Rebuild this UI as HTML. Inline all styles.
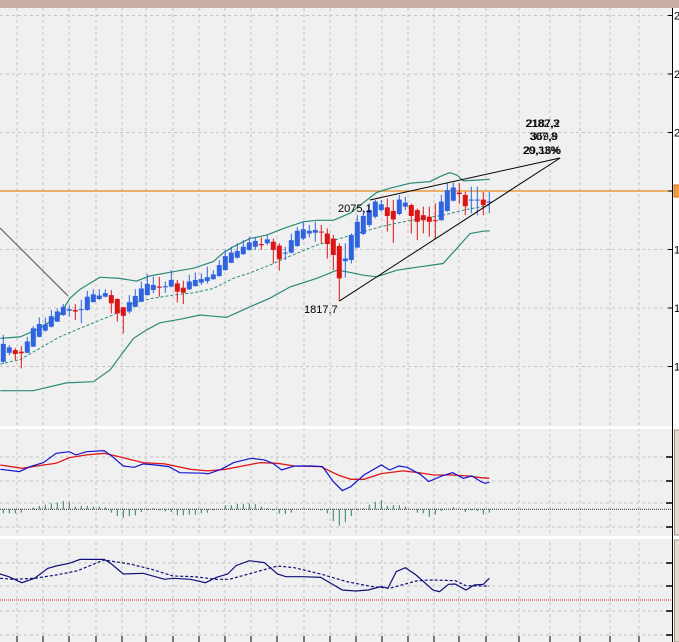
<!DOCTYPE html>
<html><head><meta charset="utf-8"><style>
html,body{margin:0;padding:0;background:#f0f0f0;overflow:hidden}
svg{display:block;font-family:"Liberation Sans",sans-serif}
</style></head><body>
<svg id="chart" width="679" height="642" viewBox="0 0 679 642" xmlns="http://www.w3.org/2000/svg">
<rect x="0" y="0" width="679" height="642" fill="#f0f0f0"/>
<rect x="0" y="0" width="679" height="8" fill="#c8b0a6"/>
<g id="grid"></g>
<g id="main"></g>
<g id="macd"></g>
<g id="stoch"></g>
<g id="axis"></g>
</svg>
<script>
// ---- candle data (prices) ----
const opens  = [1662,1685,1692,1688,1685,1701,1726,1742,1752,1765,1782,1793,1795,1795,1795,1815,1823,1829,1833,1823,1802,1791,1803,1816,1833,1846,1855,1853,1855,1863,1852,1848,1856,1865,1869,1874,1882,1897,1916,1929,1938,1949,1957,1964,1966,1970,1960,1940,1942,1959,1978,1991,1993,1996,1991,1978,1959,1920,1923,1955,1990,2013,2034,2051,2058,2049,2041,2060,2064,2051,2038,2034,2025,2025,2049,2075,2096,2090,2077,2077,2078,2070];
const highs  = [1731,1705,1697,1702,1726,1754,1776,1776,1795,1799,1810,1808,1810,1821,1844,1848,1848,1848,1846,1825,1803,1833,1848,1868,1887,1880,1880,1868,1897,1872,1870,1885,1891,1889,1906,1897,1923,1949,1957,1966,1974,1983,1981,1981,1987,1978,1966,1957,1991,2008,2021,2013,2021,2013,2004,1987,1966,1966,1991,2038,2051,2068,2077,2077,2081,2077,2090,2085,2068,2055,2060,2060,2068,2090,2120,2121,2120,2098,2111,2111,2098,2098];
const lows   = [1658,1679,1667,1645,1684,1700,1725,1739,1750,1764,1780,1778,1769,1761,1793,1814,1821,1827,1786,1765,1735,1786,1802,1815,1832,1838,1829,1839,1853,1814,1810,1846,1855,1859,1863,1872,1880,1896,1915,1927,1936,1947,1949,1949,1961,1914,1896,1923,1940,1957,1974,1981,1970,1966,1927,1897,1818,1878,1914,1953,1987,2008,2030,2047,1996,1967,2038,2051,1991,1974,1991,1983,1978,2024,2047,2073,2067,2038,2043,2038,2038,2043];
const closes = [1708,1699,1682,1684,1714,1748,1759,1758,1779,1791,1803,1797,1791,1797,1829,1835,1832,1838,1812,1786,1780,1815,1831,1850,1862,1859,1852,1856,1872,1842,1839,1868,1872,1874,1879,1886,1910,1933,1942,1946,1957,1968,1972,1961,1976,1949,1925,1942,1974,1998,2002,1998,2000,1995,1964,1936,1876,1927,1987,2021,2036,2051,2073,2066,2036,2027,2078,2070,2036,2021,2025,2021,2024,2073,2102,2109,2092,2061,2078,2078,2064,2073];
// ---- bollinger bands (sampled) ----
const upperIdx = [-0.5,2.8,6.1,9.4,11.1,12.8,16.1,19.4,22.2,24.4,28.3,31.7,35,36.7,38.3,41.1,43.9,46.7,50,52.2,55,57.8,60.6,62.2,64.4,67.8,71.1,72.8,74.4,75.6,76.7,78.9,81.1];
const upperVal = [1722,1726,1748,1782,1825,1848,1879,1876,1869,1882,1893,1902,1919,1942,1957,1978,1987,2004,2021,2025,2025,2043,2077,2096,2107,2120,2124,2137,2147,2141,2126,2128,2130];
const midIdx = [-0.5,2.8,6.1,9.4,12.8,16.1,18.3,21.6,24.9,28.3,31.7,35,38.3,41.1,44.4,47.8,52.2,56.7,60,63.3,66.7,70,73.3,76.7,81.1];
const midVal = [1656,1668,1697,1726,1748,1769,1782,1812,1825,1833,1839,1850,1876,1890,1910,1933,1961,1981,1996,2010,2021,2030,2038,2051,2064];
const lowerIdx = [-0.5,5,6.7,10.5,15,17.8,19.4,21.7,23.9,26.1,29.4,32.8,35,37.2,41.1,44.4,47.8,52.2,55.6,57.2,60,62.2,65.6,70,73.3,75.6,77.8,80,81.1];
const lowerVal = [1588,1588,1594,1608,1611,1641,1675,1722,1744,1762,1771,1782,1779,1776,1803,1825,1854,1876,1897,1893,1884,1880,1897,1907,1914,1953,1991,1997,1998];
// ---- MACD ----
const macdIdx = [-0.5,2.7,4.5,6.7,8.8,11,12.1,13.9,16.8,18.2,20,21.8,23.3,25.4,27.6,29.4,33.4,34.1,36.3,38.4,41.3,43.5,44.9,46.4,48.5,51.4,53.2,55,56.5,57.9,60.1,63,64.4,65.9,67.3,69.5,70.9,73.1,74.9,76.7,78.1,79.6,80.3,81];
const macdVal = [34.3,32.3,36.6,40,48,49.4,46.6,49.4,50.3,45.1,37.1,36,38.9,38,36.6,31.4,30.9,30.3,34.3,40,43.7,42.3,39.4,33.7,37.1,37.1,36.6,23.7,16,19.4,29.4,38,33.7,37.1,36,30,23.7,28.6,31.4,26.6,28.6,23.7,22.3,23.1];
const signalIdx = [-0.5,3.1,6.7,8.8,11,13.9,16.8,19.7,23.3,26.9,31.2,34.1,37,39.9,42.8,45.7,48.5,52.9,55.8,57.9,60.1,63,66.6,69.5,71.7,74.5,77.4,79.6,81];
const signalVal = [38,35.1,38,39.4,44.3,46.6,48,44.6,40,38.9,34.3,32.9,34.3,37.1,40,39.4,37.1,36.6,29.4,25.7,25.7,30.6,32.9,31.2,29.4,29.4,28.6,27.1,26.6];
const histVal = [-3.5,-3.5,-3.5,-2.9,0,1.5,2.9,4,5.2,5.8,7,6.4,2.3,2.9,2.9,2.3,2.3,1.7,-2.9,-5.8,-7.3,-5.8,-5.2,-2.3,-0.9,0.6,-0.9,-1.7,-2.3,-5.2,-5.2,-4.6,-4.6,-3.5,-2.9,-0.9,0,3.5,3.5,4.6,4.6,5.2,4.4,2.3,0.9,-0.9,-3.5,-4.1,-2.9,0,0.6,0.6,0,-0.9,-3.5,-10.2,-13.9,-11,-5.8,-0.9,0.9,4.1,6.4,7.5,2.9,3.5,3.5,2.3,0,-2.9,-3.5,-6.4,-4.4,-1.5,0,1.7,0,-2.3,-0.9,-1.5,-4.4,-2.9];
// ---- stochastic ----
const kIdx = [-0.55,0.9,3.1,5.2,7.4,8.8,11,12.8,14.6,16.8,17.9,20,23.3,26.9,28.3,31.2,33.7,35.5,37.4,38.8,41,43.5,45.7,47.1,50,52.9,56.5,58.7,60.8,63,64.1,65.5,67,68.8,71.6,72.7,74.2,75.3,77.1,78.5,80,81];
const kVal = [54.7,51.1,43.1,48.9,62.2,65.3,68.9,74.2,74.2,74.2,68.9,54.7,55.6,47.6,48.9,47.6,43.1,50.2,54.7,65.8,72.4,69.8,54.7,51.1,51.1,50.2,33.3,32,33.3,37.8,35.6,57.8,63.1,53.3,33.3,31.1,40.9,41.3,33.3,40,40.9,48.9];
const dIdx = [-0.55,1.6,5.2,8.8,12.4,16.8,21.1,24.7,28.3,31.9,35.5,37.7,41.3,45.7,48.5,52.9,57.2,61.5,64.4,68.8,70.9,75.3,77.1,79.6,81];
const dVal = [48.9,47.6,48.9,53.3,59.1,73.3,68,60.9,52,51.1,47.6,47.6,55.6,65.3,63.1,54.7,44.5,37.8,35.6,45.3,46.7,45.8,39.1,38.7,38.7];
const priceTicks = [2550,2400,2250,2100,1950,1800,1650];
const gridXs = [17,43,69,96,122,146,173,199,225,251,277,304,330,356,382,408,434,459,486,519,550,580,610,639];

const NS = "http://www.w3.org/2000/svg";
const xOf = i => 3.3 + 6 * i;
const yP = p => 191 - (p - 2100) / 2.564;
const yM = v => 509.3 - v * 1.1667;
const yS = v => 600 - (v - 20) * 0.75;
function mk(tag, attrs, parent) {
  const e = document.createElementNS(NS, tag);
  for (const k in attrs) e.setAttribute(k, attrs[k]);
  parent.appendChild(e);
  return e;
}
const grid = document.getElementById('grid');
const main = document.getElementById('main');
const macd = document.getElementById('macd');
const stoch = document.getElementById('stoch');
const axis = document.getElementById('axis');
// grid
gridXs.forEach(x => {
  const l = mk('line', {x1: x, y1: 8, x2: x, y2: 642, stroke: '#c4c4c4', 'stroke-dasharray': '3,3'}, grid);
  
  
  const t = mk('line', {x1: x, y1: 636, x2: x, y2: 642, stroke: '#000'}, grid);
  
  
});
priceTicks.forEach(p => {
  const l = mk('line', {x1: 0, y1: yP(p), x2: 672, y2: yP(p), stroke: '#c4c4c4', 'stroke-dasharray': '3,3'}, grid);
  
  
});
[457, 481, 503, 527, 563, 586, 611, 635].forEach(y => {
  const l = mk('line', {x1: 0, y1: y, x2: 672, y2: y, stroke: '#c4c4c4', 'stroke-dasharray': '3,3'}, grid);
  
  
});
// panel separators
[427.5, 537.5].forEach(y => {
  const s = mk('rect', {x: 0, y: y - 1.5, width: 679, height: 3, fill: '#ffffff'}, grid);
  
  
});
// orange price line
const ol = mk('line', {x1: 0, y1: yP(2100), x2: 672, y2: yP(2100), stroke: '#e8891e', 'stroke-width': 1.3}, main);


function poly(idx, val, yf, attrs, parent, name) {
  const pts = idx.map((i, k) => xOf(i).toFixed(1) + ',' + yf(val[k]).toFixed(1)).join(' ');
  const p = mk('polyline', Object.assign({points: pts, fill: 'none'}, attrs), parent);
  
  
  return p;
}
poly(upperIdx, upperVal, yP, {stroke: '#2a8a78', 'stroke-width': 1.2}, main, 'bollinger-upper');
poly(midIdx, midVal, yP, {stroke: '#2a8a78', 'stroke-width': 1, 'stroke-dasharray': '3,2'}, main, 'bollinger-middle');
poly(lowerIdx, lowerVal, yP, {stroke: '#2a8a78', 'stroke-width': 1.2}, main, 'bollinger-lower');
// candles
opens.forEach((o, i) => {
  const c = closes[i], up = c >= o;
  const col = up ? '#2f63e0' : '#dd1414';
  const x = xOf(i);
  const g = mk('g', {}, main);
  
  
  mk('line', {x1: x, y1: yP(highs[i]), x2: x, y2: yP(lows[i]), stroke: col, 'stroke-width': 1}, g);
  const top = yP(Math.max(o, c)), bot = yP(Math.min(o, c));
  mk('rect', {x: x - 2.5, y: top, width: 5, height: Math.max(1, bot - top), fill: col}, g);
});
// trendlines
const trendX1 = [-0.55, 56, 61.1], trendP1 = [2005, 1817.7, 2077];
const trendX2 = [10.8, 92.8, 92.8], trendP2 = [1831, 2184.6, 2184.6];
trendX1.forEach((a, k) => {
  const l = mk('line', {x1: xOf(a), y1: yP(trendP1[k]), x2: xOf(trendX2[k]), y2: yP(trendP2[k]), stroke: k === 0 ? '#666' : '#000', 'stroke-width': k === 0 ? 1.2 : 1}, main);
  
  
});
function txt(x, y, s, name, parent, anchor) {
  const t = mk('text', {x: x, y: y, 'font-size': 11, fill: '#000', 'text-anchor': anchor || 'start'}, parent);
  t.textContent = s;
  
  
}
txt(338, 212, '2075,1', 'label-high', main);
txt(304, 313, '1817,7', 'label-low', main);
txt(559, 127, '2182,3', 'label-target-price', main, 'end');
txt(560, 127, '2187,2', 'label-target-price-2', main, 'end');
txt(558, 140, '369,9', 'label-target-range', main, 'end');
txt(557, 140, '307,8', 'label-target-range-2', main, 'end');
txt(560, 154, '20,33%', 'label-target-pct', main, 'end');
txt(561, 154, '29,16%', 'label-target-pct-2', main, 'end');
// MACD
const zl = mk('line', {x1: 0, y1: 509.3, x2: 672, y2: 509.3, stroke: '#222', 'stroke-dasharray': '1,1'}, macd);


histVal.forEach((v, i) => {
  const b = mk('line', {x1: xOf(i), y1: yM(0), x2: xOf(i), y2: yM(v), stroke: '#2a8070', 'stroke-width': 1}, macd);
  
  
});
poly(signalIdx, signalVal, yM, {stroke: '#e01818', 'stroke-width': 1.3}, macd, 'macd-signal-line');
poly(macdIdx, macdVal, yM, {stroke: '#1414d0', 'stroke-width': 1.2}, macd, 'macd-line');
// Stochastic
const rl = mk('line', {x1: 0, y1: 600, x2: 672, y2: 600, stroke: '#d02020', 'stroke-dasharray': '1,1'}, stoch);


poly(dIdx, dVal, yS, {stroke: '#101078', 'stroke-width': 1.2, 'stroke-dasharray': '3,2'}, stoch, 'stochastic-d-line');
poly(kIdx, kVal, yS, {stroke: '#101078', 'stroke-width': 1.2}, stoch, 'stochastic-k-line');
// right axis
const ax = mk('rect', {x: 673, y: 8, width: 6, height: 634, fill: '#ffffff'}, axis);


const al = mk('line', {x1: 672.5, y1: 8, x2: 672.5, y2: 642, stroke: '#000'}, axis);


priceTicks.forEach(p => {
  const t = mk('line', {x1: 668, y1: yP(p), x2: 672, y2: yP(p), stroke: '#000'}, axis);
  
  
  if (p !== 2100) txt(674, yP(p) + 4, String(p), 'price-axis-label', axis);
});
[457, 481, 503, 527, 563, 586, 611, 635].forEach(y => {
  const t = mk('line', {x1: 666, y1: y, x2: 672, y2: y, stroke: '#000', 'stroke-width': 1.5}, axis);
  
  
});
const pb = mk('rect', {x: 674, y: yP(2100) - 6, width: 8, height: 12, fill: '#f0a040', stroke: '#d07010'}, axis);


[[430, 105], [540, 102]].forEach(a => {
  const b = mk('rect', {x: 674.5, y: a[0], width: 6, height: a[1], fill: '#e4dccc', stroke: '#9a9080'}, axis);
  
  
});
</script>
</body></html>
